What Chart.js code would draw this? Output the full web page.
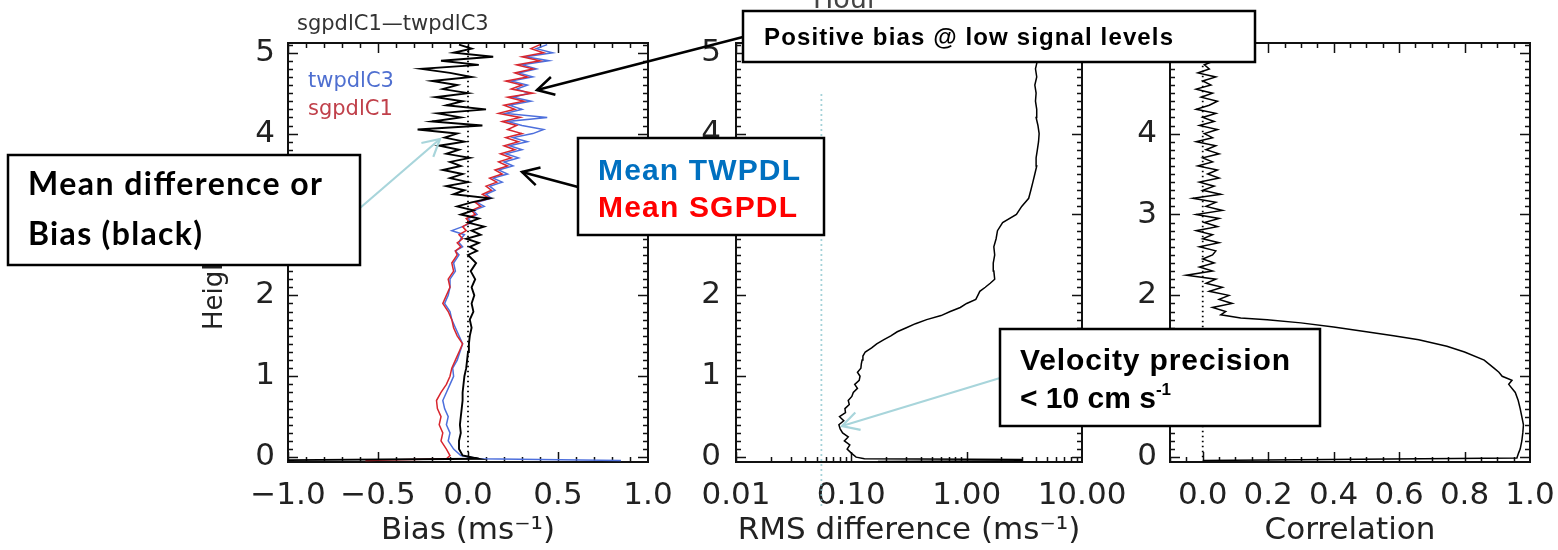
<!DOCTYPE html>
<html>
<head>
<meta charset="utf-8">
<script src="https://cdn.jsdelivr.net/npm/chart.js@4.4.1/dist/chart.umd.min.js"></script>
<style>
  body { margin: 0; background: #fff; width: 1558px; height: 550px; overflow: hidden; position: relative; }
  canvas, svg { position: absolute; left: 0; top: 0; }
</style>
</head>
<body>
<canvas id="biasChart" width="1558" height="550"></canvas>
<canvas id="rmsChart" width="1558" height="550"></canvas>
<canvas id="corrChart" width="1558" height="550"></canvas>
<svg id="notas" width="1558" height="550"></svg>

<script>
// ===============================
// Datos
// ===============================
const heightTicks = [0, 1, 2, 3, 4, 5];
const biasTicks = [-1, -0.5, 0, 0.5, 1];
const rmsTicks = [0.01, 0.1, 1, 10];
const corrTicks = [0, 0.2, 0.4, 0.6, 0.8, 1];

// alturas (km) del panel de sesgo
const biasHeights = [-0.04, -0.02, 0.02,
  0.1, 0.2, 0.3, 0.4, 0.5, 0.6, 0.7, 0.8, 0.9, 1.0,
  1.1, 1.2, 1.3, 1.4, 1.5, 1.6, 1.7, 1.8, 1.9, 2.0,
  2.1, 2.2, 2.3, 2.4,
  2.5, 2.55, 2.6, 2.65, 2.7, 2.75, 2.8, 2.85, 2.9, 2.95,
  3.0, 3.05, 3.1, 3.15, 3.2, 3.25, 3.3, 3.35, 3.4, 3.45,
  3.5, 3.55, 3.6, 3.65, 3.7, 3.75, 3.8, 3.85, 3.9, 3.95,
  4.0, 4.05, 4.1, 4.15, 4.2, 4.25, 4.3, 4.35, 4.4, 4.45,
  4.5, 4.55, 4.6, 4.65, 4.7, 4.75, 4.8, 4.85, 4.9, 4.95,
  5.0, 5.05, 5.1];

// sgpdlC1 - twpdlC3 (negro)
const biasDiff = [-1.2, 0.06, -0.03,
  -0.05, -0.05, -0.04, -0.045, -0.04, -0.035, -0.03, -0.03, -0.025, -0.02,
  -0.01, -0.005, 0.0, 0.005, 0.01, 0.02, 0.01, 0.03, 0.02, 0.035,
  0.02, 0.04, 0.015, 0.045,
  0.0, 0.05, 0.01, 0.06, -0.01, 0.07, 0.02, 0.09, 0.0, 0.06,
  -0.04, 0.03, -0.06, 0.02, 0.12, -0.08, -0.02, -0.12, 0.0, -0.1,
  -0.03, -0.14, -0.04, -0.1, 0.01, -0.12, -0.05, -0.16, -0.02, -0.13,
  -0.06, -0.28, 0.08, -0.2, -0.04, -0.17, 0.1, -0.12, -0.03, -0.18,
  0.0, -0.14, -0.06, -0.2, 0.02, -0.1, -0.26, 0.06, -0.15, 0.14,
  -0.08, 0.02, -0.05];

// media sgpdlC1 (rojo)
const biasSgp = [-0.57, -0.12, -0.1,
  -0.12, -0.15, -0.14, -0.16, -0.15, -0.17, -0.175, -0.15, -0.12, -0.1,
  -0.09, -0.07, -0.05, -0.03, -0.06, -0.08, -0.09, -0.11, -0.14, -0.12,
  -0.1, -0.11, -0.08, -0.09,
  -0.06, -0.07, -0.04, -0.06, -0.03, -0.05, -0.01, -0.03, 0.01, -0.01,
  0.04, 0.02, 0.07, 0.04, 0.12, 0.08, 0.13, 0.1, 0.16, 0.12,
  0.19, 0.15, 0.22, 0.17, 0.24, 0.18, 0.26, 0.2, 0.28, 0.21,
  0.3, 0.22, 0.27, 0.19, 0.29, 0.17, 0.26, 0.2, 0.31, 0.22,
  0.36, 0.24, 0.3, 0.21, 0.33, 0.26, 0.36, 0.27, 0.4, 0.3,
  0.42, 0.35, 0.4];

// media twpdlC3 (azul)
const biasTwp = [0.85, 0.06, -0.04,
  -0.08, -0.11, -0.1, -0.12, -0.11, -0.13, -0.14, -0.12, -0.1, -0.08,
  -0.085, -0.06, -0.045, -0.03, -0.05, -0.07, -0.09, -0.1, -0.13, -0.11,
  -0.1, -0.1, -0.07, -0.08,
  -0.05, -0.07, -0.03, -0.05, -0.04, -0.02, -0.09, -0.03, 0.02, 0.0,
  0.05, 0.03, 0.09, 0.05, 0.13, 0.1, 0.15, 0.12, 0.19, 0.14,
  0.22, 0.17, 0.25, 0.2, 0.28, 0.21, 0.3, 0.23, 0.33, 0.25,
  0.36, 0.42, 0.3, 0.22, 0.44, 0.21, 0.3, 0.23, 0.35, 0.25,
  0.34, 0.27, 0.33, 0.24, 0.36, 0.28, 0.38, 0.3, 0.45, 0.32,
  0.47, 0.38, 0.44];

// diferencia RMS (m/s)
const rmsHeights = [-0.055, -0.045, -0.03, -0.02, 0.0,
  0.05, 0.1, 0.15, 0.2, 0.25, 0.3, 0.35, 0.4, 0.45, 0.5,
  0.55, 0.6, 0.65, 0.7, 0.75, 0.8, 0.85, 0.9, 0.95, 1.0,
  1.05, 1.1, 1.15, 1.2, 1.25, 1.3, 1.35, 1.4, 1.45, 1.5,
  1.55, 1.6, 1.65, 1.7, 1.75, 1.8, 1.85, 1.9, 1.95, 2.0,
  2.05, 2.1, 2.15, 2.2, 2.3, 2.4, 2.5, 2.6, 2.7, 2.8,
  2.9, 3.0, 3.1, 3.2, 3.3, 3.4, 3.5, 3.6, 3.7, 3.8,
  3.9, 4.0, 4.1, 4.2, 4.3, 4.4, 4.5, 4.6, 4.7, 4.8,
  4.9, 5.0, 5.1];
const rmsValues = [0.17, 3.0, 3.0, 0.13, 0.11,
  0.1, 0.092, 0.097, 0.087, 0.094, 0.084, 0.08, 0.078, 0.086, 0.079,
  0.089, 0.088, 0.096, 0.094, 0.101, 0.104, 0.113, 0.107, 0.117, 0.119,
  0.113, 0.121, 0.122, 0.124, 0.126, 0.132, 0.15, 0.166, 0.19, 0.22,
  0.25, 0.3, 0.36, 0.45, 0.6, 0.72, 0.88, 1.0, 1.2, 1.25,
  1.3, 1.45, 1.6, 1.75, 1.72, 1.7, 1.75, 1.72, 1.8, 1.85,
  2.05, 2.7, 3.0, 3.45, 3.6, 3.75, 3.9, 4.05, 4.0, 4.1,
  4.2, 4.25, 4.15, 4.0, 4.05, 3.95, 4.0, 3.9, 4.05, 3.95,
  4.1, 4.05, 4.0];

// correlacion
const corrHeights = [-0.04, -0.01, 0.05, 0.1, 0.2, 0.3, 0.4, 0.5, 0.6, 0.7,
  0.8, 0.9, 0.95, 1.0, 1.05, 1.1, 1.2, 1.3, 1.37, 1.45,
  1.5, 1.55, 1.61, 1.66, 1.7, 1.72, 1.76, 1.8, 1.85, 1.9,
  1.95, 2.0, 2.05, 2.1, 2.15, 2.2, 2.25, 2.3, 2.35, 2.4,
  2.45, 2.5, 2.55, 2.6, 2.65, 2.7, 2.75, 2.8, 2.85, 2.9,
  2.95, 3.0, 3.05, 3.1, 3.15, 3.2, 3.25, 3.3, 3.35, 3.4,
  3.45, 3.5, 3.55, 3.6, 3.65, 3.7, 3.75, 3.8, 3.85, 3.9,
  3.95, 4.0, 4.05, 4.1, 4.15, 4.2, 4.25, 4.3, 4.35, 4.4,
  4.45, 4.5, 4.55, 4.6, 4.65, 4.7, 4.75, 4.8, 4.85, 4.9,
  4.95, 5.0, 5.05, 5.1];
const corrValues = [0.0, 0.96, 0.965, 0.97, 0.975, 0.978, 0.98, 0.975, 0.97, 0.964,
  0.955, 0.935, 0.945, 0.915, 0.905, 0.89, 0.86, 0.8, 0.746, 0.66,
  0.583, 0.5, 0.4, 0.3, 0.197, 0.116, 0.055, 0.07, 0.03, 0.09,
  0.05, 0.08, 0.02, 0.06, 0.01, 0.04, -0.05, 0.03, -0.01, 0.035,
  0.0, 0.03, 0.04, -0.01, 0.05, 0.0, 0.03, -0.02, 0.045, 0.005,
  0.05, -0.02, 0.06, 0.01, 0.04, -0.03, 0.055, 0.0, 0.035, -0.01,
  0.05, 0.015, 0.045, -0.015, 0.03, 0.0, 0.05, 0.01, 0.04, -0.02,
  0.03, 0.005, 0.045, -0.01, 0.035, 0.0, 0.04, -0.02, 0.02, 0.045,
  -0.005, 0.03, -0.02, 0.025, 0.0, 0.04, -0.015, 0.02, 0.005, 0.035,
  -0.01, 0.03, 0.0, 0.02];

// lineas de referencia punteadas
const zeroLineHeights = [0, 5.1];
const zeroLineValues = [0, 0];
const rmsRefHeights = [-0.6, 4.52];
const rmsRefValues = [0.055, 0.055];

// ===============================
// Estilo
// ===============================
const ink = '#222';
const idlFont = "'DejaVu Sans', sans-serif";
const tickFont = { family: idlFont, size: 31 };

function steps(from, to, step) {
  const out = [];
  for (let v = from; v <= to + 1e-9; v += step) out.push(+v.toFixed(4));
  return out;
}
const heightMinor = steps(0, 5.1, 0.1);
const rmsMinor = [];
[0.01, 0.1, 1].forEach(d => { for (let k = 2; k <= 9; k++) rmsMinor.push(d * k); });

// marco IDL: caja con marcas hacia dentro en los cuatro lados
const idlFrame = {
  id: 'idlFrame',
  beforeDatasetsDraw(chart, args, opts) {
    const { ctx, chartArea: a } = chart;
    const x = chart.scales.x, y = chart.scales.y;
    ctx.save();
    ctx.strokeStyle = '#111';
    ctx.lineWidth = 1.5;
    ctx.beginPath();
    const markX = (vals, len) => vals.forEach(v => {
      const px = Math.round(x.getPixelForValue(v)) + 0.5;
      if (px < a.left || px > a.right) return;
      ctx.moveTo(px, a.bottom); ctx.lineTo(px, a.bottom - len);
      ctx.moveTo(px, a.top); ctx.lineTo(px, a.top + len);
    });
    const markY = (vals, len) => vals.forEach(v => {
      const py = Math.round(y.getPixelForValue(v)) + 0.5;
      if (py < a.top || py > a.bottom) return;
      ctx.moveTo(a.left, py); ctx.lineTo(a.left + len, py);
      ctx.moveTo(a.right, py); ctx.lineTo(a.right - len, py);
    });
    markX(opts.xMinor, 5); markX(opts.xMajor, 10);
    markY(heightMinor, 5); markY(heightTicks, 10);
    ctx.stroke();
    ctx.lineWidth = 2;
    ctx.strokeRect(a.left, a.top, a.right - a.left, a.bottom - a.top);
    ctx.restore();
  }
};

function serie(h, v, color, width) {
  return {
    data: h.map((y, i) => ({ x: v[i], y })),
    borderColor: color, borderWidth: width,
    showLine: true, pointRadius: 0, fill: false
  };
}

function refLine(h, v, color) {
  return {
    data: h.map((y, i) => ({ x: v[i], y })),
    borderColor: color, borderWidth: 1.8, borderDash: [1.5, 3.5],
    showLine: true, pointRadius: 0, clip: false
  };
}

function opciones(cfg) {
  return {
    responsive: false, animation: false, events: [],
    layout: { padding: { left: cfg.left, right: cfg.right, top: 43, bottom: 0 } },
    plugins: {
      legend: { display: false },
      tooltip: { enabled: false },
      idlFrame: { xMajor: cfg.xTicks, xMinor: cfg.xMinor }
    },
    scales: {
      x: Object.assign({
        grid: { display: false, drawTicks: false },
        border: { display: false },
        ticks: { font: tickFont, color: ink, padding: 15, maxRotation: 0, autoSkip: false, callback: cfg.fmt },
        afterBuildTicks: s => { s.ticks = cfg.xTicks.map(v => ({ value: v })); },
        afterFit: s => { s.height = 88; s.paddingLeft = 0; s.paddingRight = 0; },
        title: { display: true, text: cfg.xTitle, font: tickFont, color: ink, padding: 0 }
      }, cfg.x),
      y: {
        type: 'linear', min: -0.06, max: 5.12,
        grid: { display: false, drawTicks: false },
        border: { display: false },
        ticks: { font: tickFont, color: ink, padding: cfg.yPad, callback: v => String(v) },
        afterBuildTicks: s => { s.ticks = heightTicks.map(v => ({ value: v })); },
        afterFit: s => { s.width = cfg.yWidth; s.paddingTop = 0; s.paddingBottom = 0; },
        title: { display: !!cfg.yTitle, text: cfg.yTitle || '', font: { family: idlFont, size: 26 }, color: ink, padding: 0 }
      }
    }
  };
}

const fmt1 = v => v.toFixed(1).replace('-', '\u2212');

// ===============================
// 1) Sesgo
// ===============================
new Chart(document.getElementById('biasChart'), {
  type: 'scatter',
  data: { datasets: [
    serie(biasHeights, biasDiff, '#000', 1.9),
    serie(biasHeights, biasSgp, '#d8262e', 1.5),
    serie(biasHeights, biasTwp, '#4d6fdc', 1.5),
    refLine(zeroLineHeights, zeroLineValues, '#000')
  ]},
  options: opciones({
    left: 200, right: 910, yWidth: 88, yPad: 13, yTitle: 'Height (km)',
    x: { type: 'linear', min: -1, max: 1 },
    xTicks: biasTicks, xMinor: steps(-1, 1, 0.1), fmt: fmt1,
    xTitle: 'Bias (ms\u207B\u00B9)'
  }),
  plugins: [idlFrame]
});

// ===============================
// 2) Diferencia RMS
// ===============================
new Chart(document.getElementById('rmsChart'), {
  type: 'scatter',
  data: { datasets: [
    serie(rmsHeights, rmsValues, '#000', 1.5),
    refLine(rmsRefHeights, rmsRefValues, '#86c3cc')
  ]},
  options: opciones({
    left: 676, right: 476, yWidth: 60, yPad: 15,
    x: { type: 'logarithmic', min: 0.01, max: 10 },
    xTicks: rmsTicks, xMinor: rmsMinor, fmt: v => v.toFixed(2),
    xTitle: 'RMS difference (ms\u207B\u00B9)'
  }),
  plugins: [idlFrame]
});

// ===============================
// 3) Correlacion
// ===============================
new Chart(document.getElementById('corrChart'), {
  type: 'scatter',
  data: { datasets: [
    serie(corrHeights, corrValues, '#000', 1.5),
    refLine(zeroLineHeights, zeroLineValues, '#000')
  ]},
  options: opciones({
    left: 1110, right: 28, yWidth: 60, yPad: 13,
    x: { type: 'linear', min: -0.1, max: 1 },
    xTicks: corrTicks, xMinor: steps(-0.1, 1, 0.05), fmt: fmt1,
    xTitle: 'Correlation'
  }),
  plugins: [idlFrame]
});

// ===============================
// Notas (cajas y flechas)
// ===============================
const svg = document.getElementById('notas');
let notas = '';

function texto(x, y, t, font, size, color, extra) {
  notas += `<text x="${x}" y="${y}" font-family="${font}" font-size="${size}" fill="${color}" ${extra || ''}>${t}</text>`;
}
function caja(x, y, w, h) {
  notas += `<rect x="${x}" y="${y}" width="${w}" height="${h}" fill="#fff" stroke="#000" stroke-width="2.5"/>`;
}
function flecha(x1, y1, x2, y2, color, w) {
  const ang = Math.atan2(y1 - y2, x1 - x2), L = 19, da = 0.5;
  const p = a => `${(x2 + L * Math.cos(a)).toFixed(1)},${(y2 + L * Math.sin(a)).toFixed(1)}`;
  notas += `<line x1="${x1}" y1="${y1}" x2="${x2}" y2="${y2}" stroke="${color}" stroke-width="${w}"/>`;
  notas += `<polyline points="${p(ang + da)} ${x2},${y2} ${p(ang - da)}" fill="none" stroke="${color}" stroke-width="${w}"/>`;
}

// textos de IDL
texto(297, 30, 'sgpdlC1\u2014twpdlC3', idlFont, 21, '#333');
texto(308, 87, 'twpdlC3', idlFont, 21, '#4f6fd0');
texto(308, 115, 'sgpdlC1', idlFont, 21, '#c0404a');
texto(813, 8, 'Hour', idlFont, 27, '#444');

// flechas
flecha(743, 37, 537, 90, '#000', 2.5);
flecha(578, 187, 522, 172, '#000', 2.5);
flecha(360, 208, 440, 139, '#a8d5db', 2.2);
flecha(1000, 378, 842, 426, '#a8d5db', 2.2);

// cajas
caja(8, 155, 352, 110);
texto(28, 195, 'Mean difference or', 'Lato', 32, '#000', 'font-weight="700" textLength="294"');
texto(28, 245, 'Bias (black)', 'Lato', 32, '#000', 'font-weight="700" textLength="174"');

caja(578, 138, 246, 97);
texto(598, 180, 'Mean TWPDL', 'Liberation Sans', 30, '#0070C0', 'font-weight="700" textLength="202"');
texto(598, 217, 'Mean SGPDL', 'Liberation Sans', 30, '#FF0000', 'font-weight="700" textLength="199"');

caja(743, 11, 512, 51);
texto(764, 45, 'Positive bias @ low signal levels', 'Liberation Sans', 24, '#000', 'font-weight="700" textLength="409"');

caja(1000, 329, 320, 97);
texto(1020, 370, 'Velocity precision', 'Liberation Sans', 30, '#000', 'font-weight="700" textLength="270"');
texto(1020, 408, '&lt; 10 cm s<tspan font-size="17" dy="-13">-1</tspan>', 'Liberation Sans', 30, '#000', 'font-weight="700"');

svg.innerHTML = notas;
</script>
</body>
</html>
